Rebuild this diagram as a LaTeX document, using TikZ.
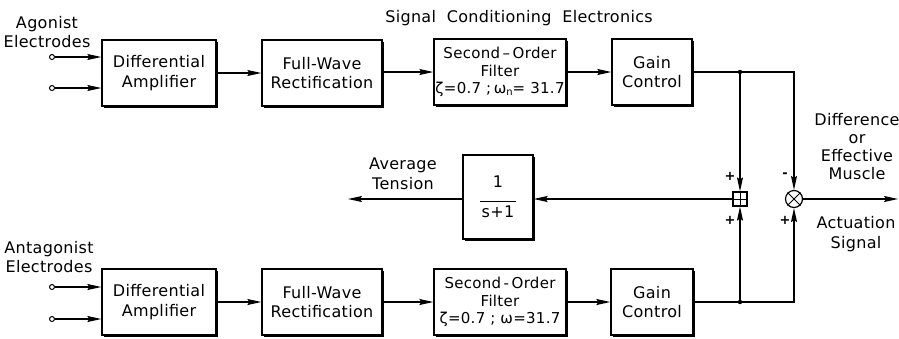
\documentclass[tikz,border=0pt]{standalone}
\usepackage{fontspec}
\setmainfont{DejaVu Sans}[LetterSpace=2]
\usetikzlibrary{arrows.meta,shadows}
\begin{document}
\begin{tikzpicture}[x=1pt,y=-1pt,
  font=\fontsize{16}{19.5}\selectfont,
  blk/.style={draw,line width=1.3pt,fill=white,inner sep=0pt,align=center,minimum height=66pt,
     drop shadow={shadow xshift=1.8pt,shadow yshift=-1.8pt,opacity=1,fill=black}},
  filt/.style={blk,minimum width=132pt,text width=130pt,font=\fontsize{15}{17.5}\selectfont},
  arr/.style={line width=1.2pt,-{Stealth[length=14pt,width=6pt,inset=2pt]}},
  term/.style={circle,draw,line width=1pt,fill=white,inner sep=0pt,minimum size=5pt},
  lbl/.style={align=center,inner sep=0pt},
  sgn/.style={inner sep=0pt,font=\fontsize{13}{13}\selectfont\bfseries}]
\useasboundingbox (0,0) rectangle (899,338);
\fill[white] (0,0) rectangle (899,338);
% top row
\node[blk,minimum width=114pt] (da1) at (159,73) {Differential\\Amplifier};
\node[blk,minimum width=120pt] (fw1) at (322,73) {Full-Wave\\Rectification};
\node[filt] (sf1) at (500,72) {Second\,–\,Order\\Filter\\ζ=0.7 ;\,ω\raisebox{-2pt}{\fontsize{10}{10}\selectfont n}= 31.7};
\node[blk,minimum width=80pt] (gc1) at (652,72) {Gain\\Control};
% bottom row
\node[blk,minimum width=114pt] (da2) at (159,302) {Differential\\Amplifier};
\node[blk,minimum width=120pt] (fw2) at (322,302) {Full-Wave\\Rectification};
\node[filt] (sf2) at (500,302) {Second\,-\,Order\\Filter\\ζ=0.7 ; ω=31.7};
\node[blk,minimum width=82pt] (gc2) at (652,302) {Gain\\Control};
% inputs
\node[term] (i1a) at (52,57) {};
\node[term] (i1b) at (52,88) {};
\node[term] (i2a) at (52,287) {};
\node[term] (i2b) at (52,319) {};
\draw[arr] (i1a) -- (da1.west |- i1a);
\draw[arr] (i1b) -- (da1.west |- i1b);
\draw[arr] (i2a) -- (da2.west |- i2a);
\draw[arr] (i2b) -- (da2.west |- i2b);
% chains
\draw[arr] (da1) -- (fw1);
\draw[arr] (fw1.east |- sf1) -- (sf1);
\draw[arr] (sf1) -- (gc1);
\draw[arr] (da2) -- (fw2);
\draw[arr] (fw2) -- (sf2);
\draw[arr] (sf2) -- (gc2);
% summing and comparison
\node[draw,line width=1.2pt,fill=white,minimum size=14pt,inner sep=0pt] (sum) at (740,199) {};
\draw[line width=1pt] (sum.north) -- (sum.south) (sum.west) -- (sum.east);
\node[circle,draw,line width=1.2pt,fill=white,minimum size=17pt,inner sep=0pt] (ot) at (794,199) {};
\draw[line width=1pt] (ot.north west) -- (ot.south east) (ot.north east) -- (ot.south west);
\coordinate (j1) at (740,72);
\coordinate (j2) at (740,302);
\draw[arr] (gc1.east) -| (ot.north);
\draw[arr] (gc2.east) -| (ot.south);
\draw[arr] (j1) -- (sum.north);
\draw[arr] (j2) -- (sum.south);
\fill (j1) circle (2.2pt);
\fill (j2) circle (2.2pt);
% transfer block
\node[blk,minimum width=70pt,minimum height=84pt] (tf) at (498,197) {1\\[-5pt]\rule{36pt}{1.2pt}\\[-4pt]s+1};
\draw[arr] (sum.west) -- (sum.west -| tf.east);
\coordinate (avg) at (348,199);
\draw[arr] (tf.west |- avg) -- (avg);
\coordinate (outp) at (898,199);
\draw[arr] (ot.east) -- (outp);
% signs
\node[sgn] (p1) at (730,176) {+};
\node[sgn] (p2) at (730,220) {+};
\node[sgn] (m1) at (785,175) {-};
\node[sgn] (p3) at (785,220) {+};
% labels
\node[lbl] (agl) at (47,32) {Agonist\\Electrodes};
\node[lbl] (anl) at (49,257) {Antagonist\\Electrodes};
\node[lbl] (scl) at (519,18) {Signal\ \ Conditioning\ \ Electronics};
\node[lbl] (avl) at (403,174) {Average\\Tension};
\node[lbl,font=\fontsize{16}{18}\selectfont] (dfl) at (857,147) {Difference\\or\\Effective\\Muscle};
\node[lbl] (acl) at (856,234) {Actuation\\Signal};
\end{tikzpicture}
\end{document}
